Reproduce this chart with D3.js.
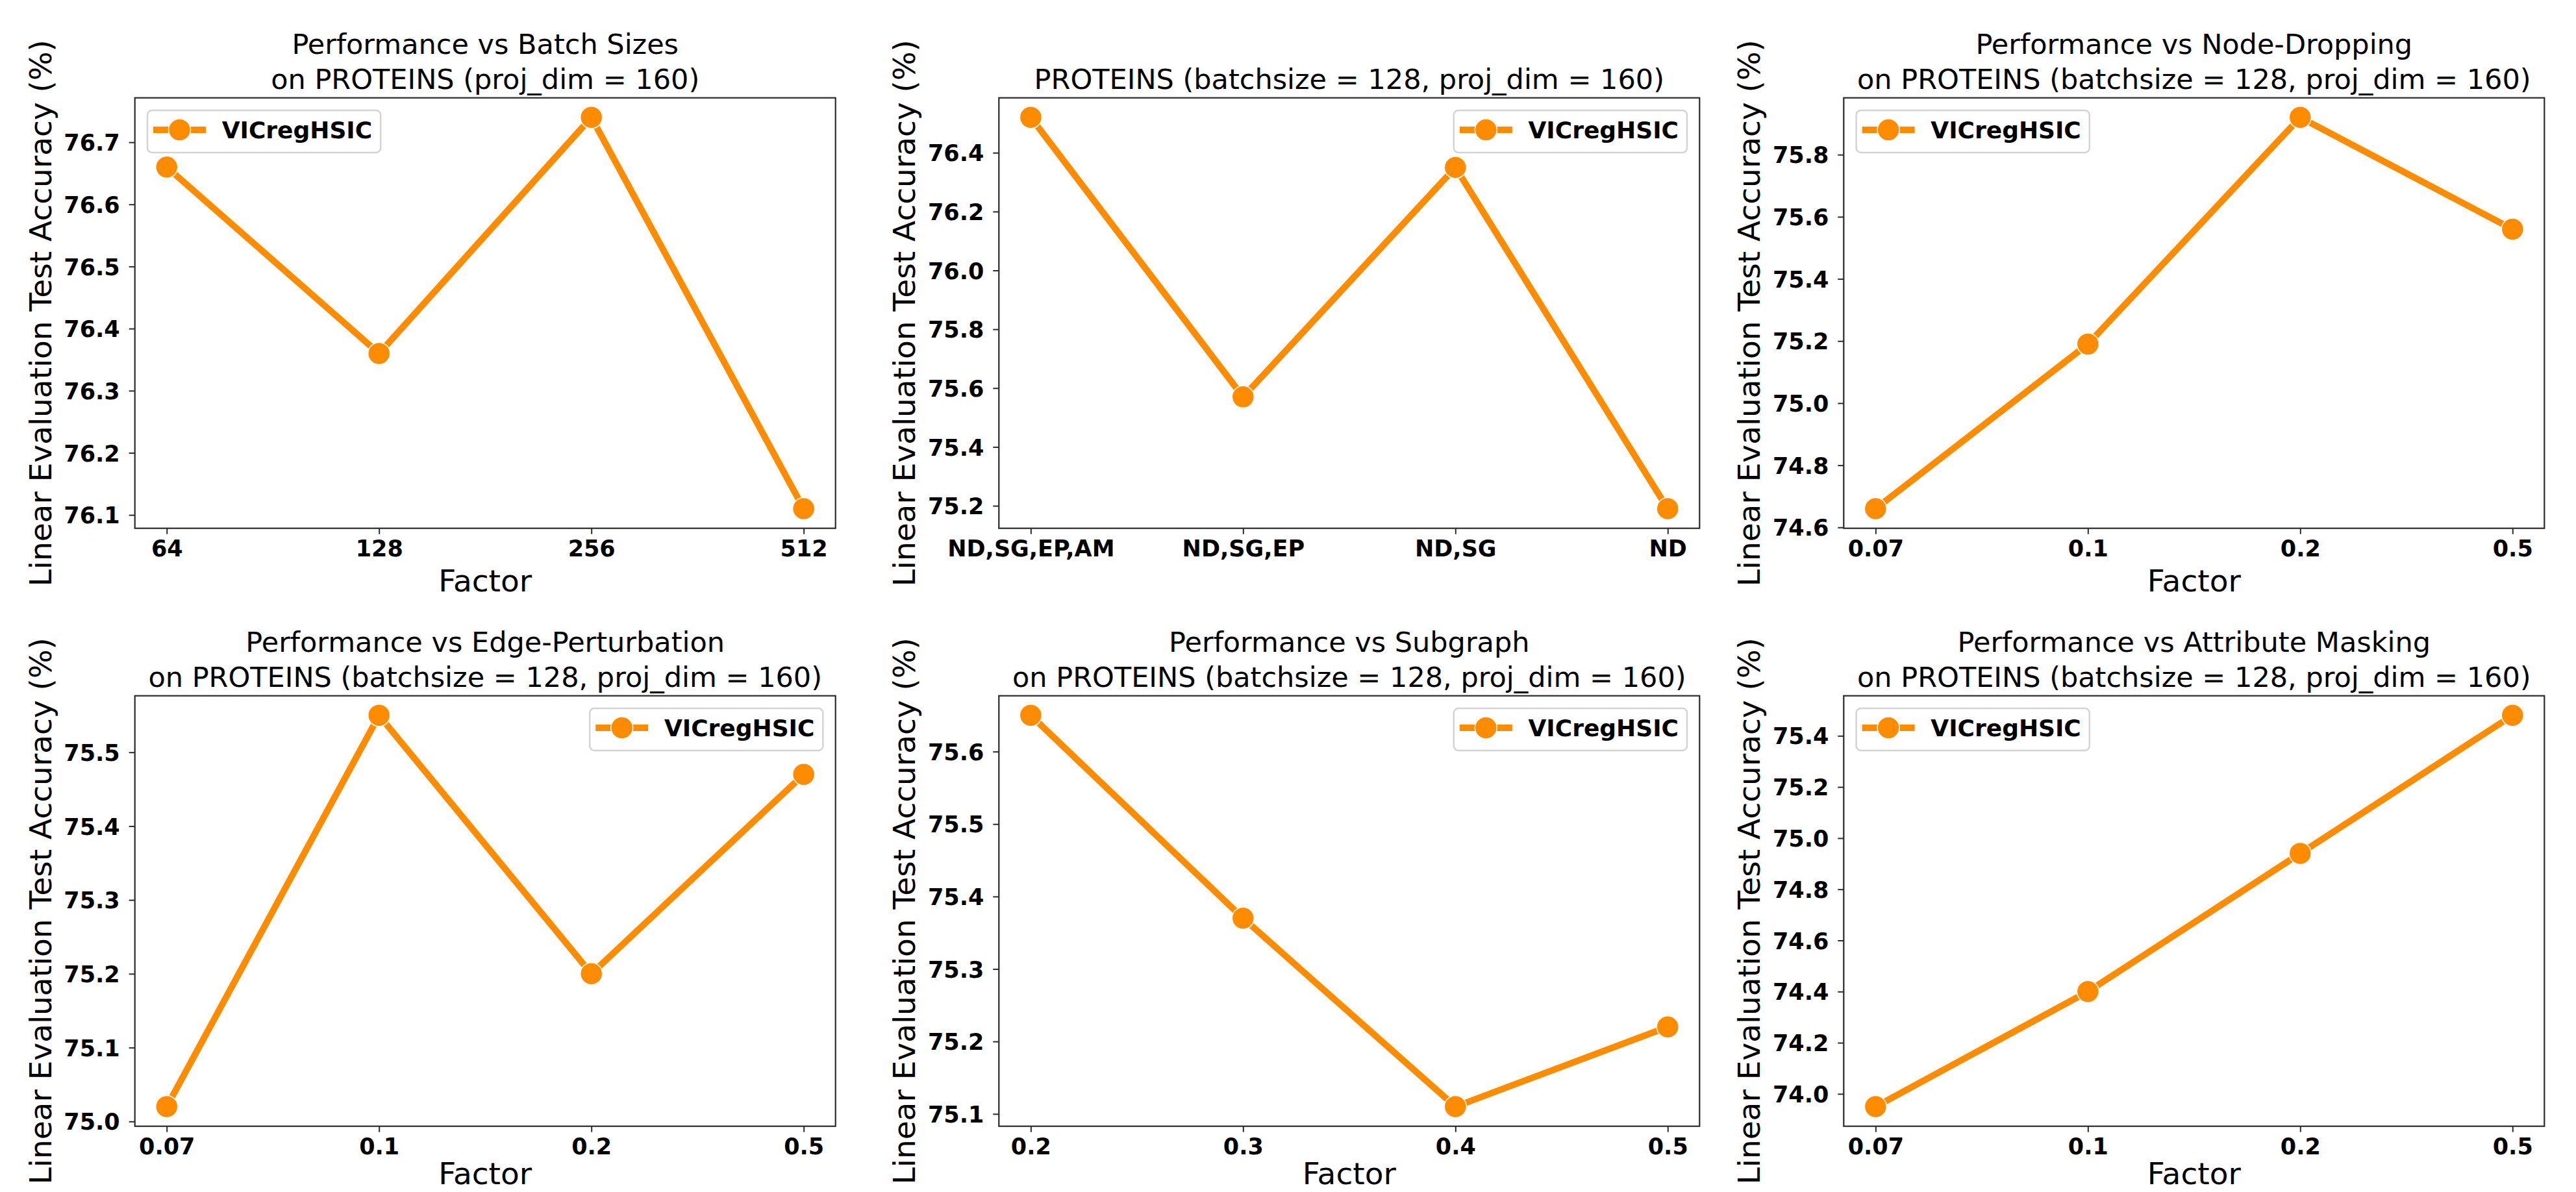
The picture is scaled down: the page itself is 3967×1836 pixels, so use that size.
<!DOCTYPE html>
<html>
<head>
<meta charset="utf-8">
<script src="https://cdn.jsdelivr.net/npm/d3@7"></script>
<style>
  html, body { margin: 0; padding: 0; background: #ffffff; }
  svg { display: block; }
  text { font-family: "DejaVu Sans", sans-serif; }
</style>
</head>
<body>
<svg id="chart" width="3967" height="1836"></svg>
<script>
// ---------------- data ----------------
const seriesName = "VICregHSIC";
const yAxisLabel = "Linear Evaluation Test Accuracy (%)";
const xAxisLabel = "Factor";

const batchCategories = ["64", "128", "256", "512"];
const batchValues = [76.66, 76.36, 76.74, 76.11];
const batchTicks = [76.1, 76.2, 76.3, 76.4, 76.5, 76.6, 76.7];

const comboCategories = ["ND,SG,EP,AM", "ND,SG,EP", "ND,SG", "ND"];
const comboValues = [76.52, 75.57, 76.35, 75.19];
const comboTicks = [75.2, 75.4, 75.6, 75.8, 76.0, 76.2, 76.4];

const factorCategories = ["0.07", "0.1", "0.2", "0.5"];
const nodeDropValues = [74.66, 75.19, 75.92, 75.56];
const nodeDropTicks = [74.6, 74.8, 75.0, 75.2, 75.4, 75.6, 75.8];

const edgePertValues = [75.02, 75.55, 75.20, 75.47];
const edgePertTicks = [75.0, 75.1, 75.2, 75.3, 75.4, 75.5];

const subgraphCategories = ["0.2", "0.3", "0.4", "0.5"];
const subgraphValues = [75.65, 75.37, 75.11, 75.22];
const subgraphTicks = [75.1, 75.2, 75.3, 75.4, 75.5, 75.6];

const attrMaskValues = [73.95, 74.40, 74.94, 75.48];
const attrMaskTicks = [74.0, 74.2, 74.4, 74.6, 74.8, 75.0, 75.2, 75.4];

const panels = [
  { title: ["Performance vs Batch Sizes", "on PROTEINS (proj_dim = 160)"], cats: batchCategories, vals: batchValues, ticks: batchTicks, legend: "left", xlabel: true, col: 0, row: 0 },
  { title: ["PROTEINS (batchsize = 128, proj_dim = 160)"], cats: comboCategories, vals: comboValues, ticks: comboTicks, legend: "right", xlabel: false, col: 1, row: 0 },
  { title: ["Performance vs Node-Dropping", "on PROTEINS (batchsize = 128, proj_dim = 160)"], cats: factorCategories, vals: nodeDropValues, ticks: nodeDropTicks, legend: "left", xlabel: true, col: 2, row: 0 },
  { title: ["Performance vs Edge-Perturbation", "on PROTEINS (batchsize = 128, proj_dim = 160)"], cats: factorCategories, vals: edgePertValues, ticks: edgePertTicks, legend: "right", xlabel: true, col: 0, row: 1 },
  { title: ["Performance vs Subgraph", "on PROTEINS (batchsize = 128, proj_dim = 160)"], cats: subgraphCategories, vals: subgraphValues, ticks: subgraphTicks, legend: "right", xlabel: true, col: 1, row: 1 },
  { title: ["Performance vs Attribute Masking", "on PROTEINS (batchsize = 128, proj_dim = 160)"], cats: factorCategories, vals: attrMaskValues, ticks: attrMaskTicks, legend: "left", xlabel: true, col: 2, row: 1 }
];

// ---------------- layout ----------------
const figW = 3967, figH = 1836;
const colLefts = [207.7, 1538.3, 2839.3];
const rowTops = [150.7, 1071.7];
const plotW = 1079;
const plotH = 663;
const orange = "#ff8c00";
const spineColor = "#2b2b2b";

const svg = d3.select("#chart");
svg.append("rect").attr("width", figW).attr("height", figH).attr("fill", "#ffffff");

panels.forEach(p => {
  const left = colLefts[p.col], top = rowTops[p.row];
  const g = svg.append("g").attr("transform", `translate(${left},${top})`);

  const x = d3.scalePoint().domain(p.cats).range([0, plotW]).padding(0.15);
  const lo = d3.min(p.vals), hi = d3.max(p.vals), span = hi - lo;
  const y = d3.scaleLinear().domain([lo - 0.05 * span, hi + 0.05 * span]).range([plotH, 0]);

  // axes
  const xAxis = d3.axisBottom(x).tickSize(9).tickPadding(8);
  const gx = g.append("g").attr("transform", `translate(0,${plotH})`).call(xAxis);
  gx.select(".domain").remove();
  gx.selectAll(".tick line").attr("stroke", spineColor).attr("stroke-width", 2);
  gx.selectAll(".tick text").attr("fill", "#000").attr("font-size", 35).attr("font-weight", "bold")
    .attr("font-family", "DejaVu Sans").attr("dy", null).attr("y", 43);

  const yAxis = d3.axisLeft(y).tickValues(p.ticks).tickFormat(d3.format(".1f")).tickSize(9).tickPadding(14);
  const gy = g.append("g").call(yAxis);
  gy.select(".domain").remove();
  gy.selectAll(".tick line").attr("stroke", spineColor).attr("stroke-width", 2);
  gy.selectAll(".tick text").attr("fill", "#000").attr("font-size", 35).attr("font-weight", "bold")
    .attr("font-family", "DejaVu Sans").attr("dy", "0.36em");

  // frame
  g.append("rect").attr("x", 0).attr("y", 0).attr("width", plotW).attr("height", plotH)
    .attr("fill", "none").attr("stroke", spineColor).attr("stroke-width", 2.2);

  // line + markers
  const pts = p.cats.map((c, i) => ({ c, v: p.vals[i] }));
  const line = d3.line().x(d => x(d.c)).y(d => y(d.v));
  g.append("path").datum(pts).attr("d", line).attr("fill", "none")
    .attr("stroke", orange).attr("stroke-width", 10).attr("stroke-linejoin", "round");
  g.selectAll("circle.pt").data(pts).enter().append("circle").attr("class", "pt")
    .attr("cx", d => x(d.c)).attr("cy", d => y(d.v)).attr("r", 17)
    .attr("fill", orange).attr("stroke", "#ffffff").attr("stroke-width", 1.5);

  // titles
  const nLines = p.title.length;
  p.title.forEach((t, i) => {
    g.append("text").attr("x", plotW / 2).attr("y", -14 - (nLines - 1 - i) * 54)
      .attr("text-anchor", "middle").attr("font-size", 43).attr("fill", "#000").text(t);
  });

  // y label
  g.append("text").attr("transform", `translate(-129,${plotH / 2}) rotate(-90)`)
    .attr("text-anchor", "middle").attr("font-size", 47).attr("fill", "#000").text(yAxisLabel);

  // x label (kept inside the figure's bottom edge)
  if (p.xlabel) {
    const xlY = Math.min(plotH + 97, figH - 12 - top);
    g.append("text").attr("x", plotW / 2).attr("y", xlY)
      .attr("text-anchor", "middle").attr("font-size", 47).attr("fill", "#000").text(xAxisLabel);
  }

  // legend
  const lg = g.append("g");
  const box = lg.append("rect").attr("height", 65).attr("rx", 7).attr("ry", 7)
    .attr("fill", "#ffffff").attr("fill-opacity", 0.8).attr("stroke", "#d4d4d4").attr("stroke-width", 2.5);
  lg.append("line").attr("x1", 9).attr("x2", 90).attr("y1", 30).attr("y2", 30)
    .attr("stroke", orange).attr("stroke-width", 10);
  lg.append("circle").attr("cx", 49.5).attr("cy", 30).attr("r", 17)
    .attr("fill", orange).attr("stroke", "#ffffff").attr("stroke-width", 1.5);
  const lt = lg.append("text").attr("x", 114.7).attr("y", 30).attr("dy", "0.36em")
    .attr("font-size", 36).attr("font-weight", "bold").attr("fill", "#000").text(seriesName);
  const tw = lt.node().getComputedTextLength();
  const bw = 114.7 + tw + 13;
  box.attr("width", bw);
  const lx = p.legend === "left" ? 19.3 : plotW - 19.3 - bw;
  lg.attr("transform", `translate(${lx},19.3)`);
});
</script>
</body>
</html>
